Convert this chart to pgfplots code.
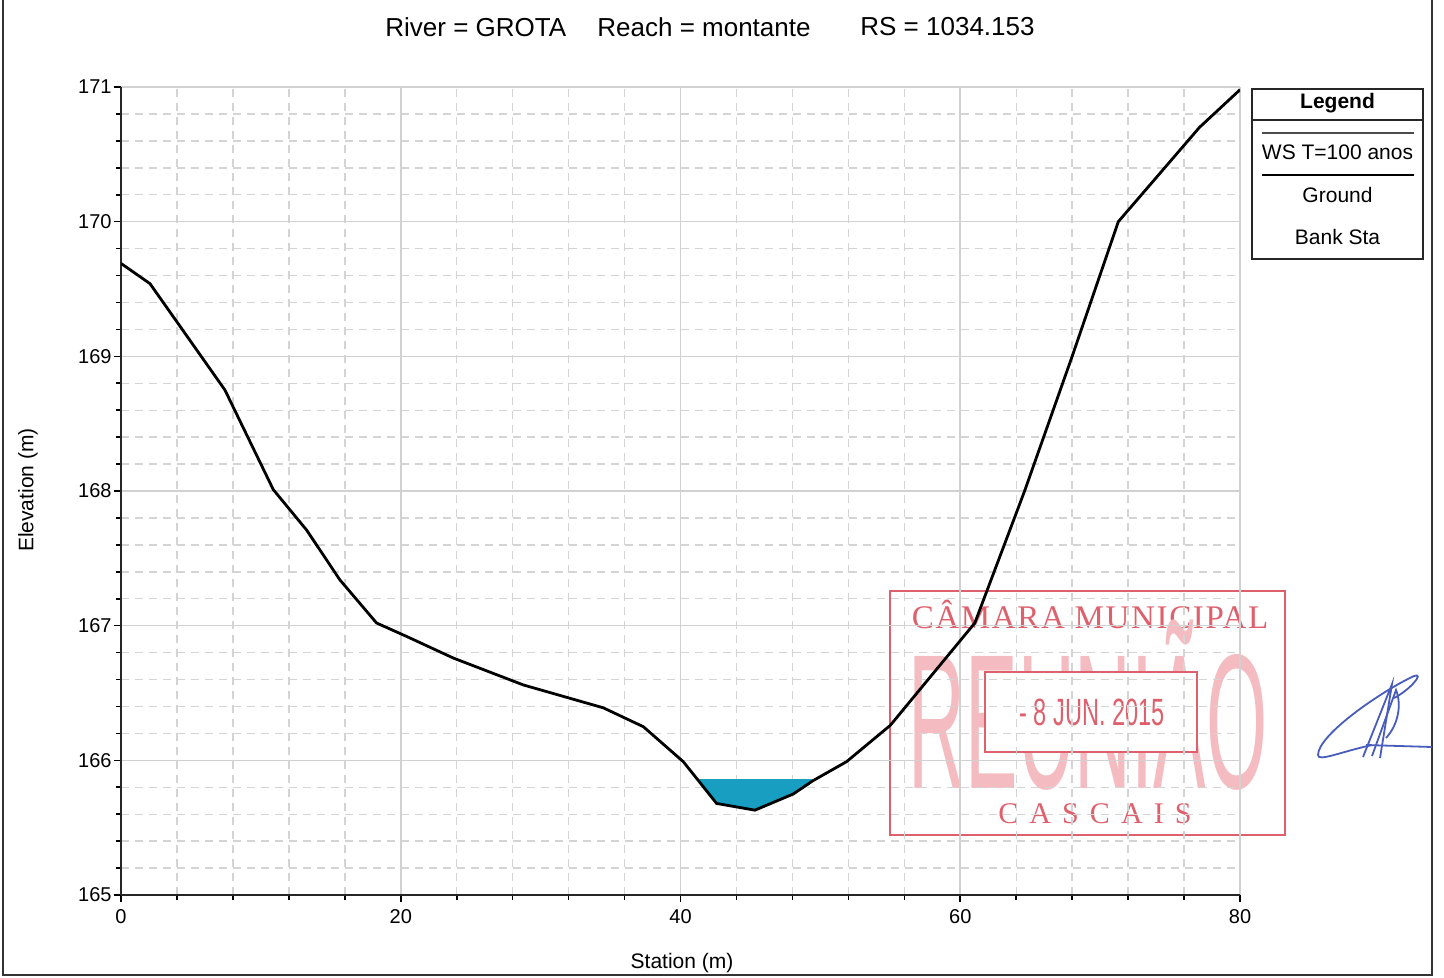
\documentclass[border=0pt]{standalone}
\usepackage{fontspec}
\setmainfont{Liberation Sans}
\newfontfamily\stampserif{Liberation Serif}
\usepackage{pgfplots}
\pgfplotsset{compat=1.18}
\definecolor{water}{RGB}{24,158,192}
\definecolor{stampred}{RGB}{222,96,108}
\definecolor{stamplight}{RGB}{244,188,192}
\definecolor{sigblue}{RGB}{72,92,188}

\begin{document}
\begin{tikzpicture}
\useasboundingbox (0,0) rectangle (722pt,-489pt);
\begin{scope}[x=0.5pt,y=-0.5pt]
  % page frame
  \draw[line width=1.2pt, black!80] (3,0) -- (3,975) -- (1432,975) -- (1432,0);
  % stamp
  \draw[stampred, line width=1pt] (890,591) rectangle (1285,835);
  \node[stampred, inner sep=0, font=\stampserif\fontsize{16.5}{16.5}\selectfont\addfontfeatures{LetterSpace=5}] at (1090,614) {CÂMARA MUNICIPAL};
  \node[text=stamplight, inner sep=0, anchor=base, xscale=0.41, font=\fontsize{96}{96}\selectfont] at (1088,788) {REUNIÃO};
  \draw[stampred, line width=1pt, fill=white] (985,672) rectangle (1197,752);
  \node[stampred, inner sep=0, xscale=0.62, font=\fontsize{19}{19}\selectfont] at (1092,712) {- 8 JUN. 2015};
  \node[stampred, inner sep=0, font=\stampserif\fontsize{15}{15}\selectfont\addfontfeatures{LetterSpace=37}] at (1095,814) {CASCAIS};
  % signature
  \draw[sigblue, line width=0.9pt] (1372,745) .. controls (1340,752) and (1318,762) .. (1318,755)
      .. controls (1318,735) and (1380,692) .. (1414,676) .. controls (1425,672) and (1410,690) .. (1394,698);
  \draw[sigblue, line width=0.9pt] (1366,745) -- (1432,747);
  \draw[sigblue, line width=0.9pt] (1363,757) -- (1392,684) -- (1380,758);
  \draw[sigblue, line width=0.9pt] (1372,756) -- (1396,690) .. controls (1402,705) and (1398,725) .. (1386,738);
\end{scope}

\begin{axis}[
  at={(60.5pt,-447.5pt)}, anchor=south west,
  scale only axis, width=559.5pt, height=404pt,
  xmin=0, xmax=80, ymin=165, ymax=171,
  axis x line=bottom, axis y line=left,
  axis line style={-, line width=1pt, black!85},
  xtick={0,20,40,60,80},
  minor xtick={4,8,12,16,24,28,32,36,44,48,52,56,64,68,72,76},
  ytick={165,166,167,168,169,170,171},
  minor y tick num=4,
  grid=both,
  major grid style={black!18, line width=0.8pt},
  minor grid style={black!17, line width=0.7pt, dash pattern=on 4pt off 3pt},
  tick align=outside,
  major tick length=3.5pt, minor tick length=2.5pt,
  every tick/.style={black, line width=0.8pt},
  tick label style={font=\fontsize{10}{12}\selectfont},
  yticklabel style={inner xsep=1pt},
  /pgf/number format/assume math mode=true,
]
\addplot[fill=water, draw=none] coordinates {
  (41.2,165.86) (42.58,165.68) (45.32,165.63) (48.06,165.75) (49.49,165.86)
} -- cycle;
\addplot[black, line width=1.4pt] coordinates {
  (0,169.69) (2.07,169.54) (7.43,168.75) (10.89,168.01) (13.27,167.71)
  (15.65,167.34) (18.27,167.02) (20.42,166.92) (23.75,166.76) (28.76,166.56)
  (34.48,166.39) (37.34,166.25) (40.2,165.99) (42.58,165.68) (45.32,165.63)
  (48.06,165.75) (49.49,165.85) (51.87,165.99) (55.0,166.26) (61.04,167.02)
  (64.6,168.0) (68.0,169.0) (71.3,170.0) (77.1,170.7) (80,170.98)
};
\end{axis}

\begin{scope}[x=0.5pt,y=-0.5pt]
  % titles and axis labels
  \node[anchor=west, inner sep=0, font=\fontsize{13}{15}\selectfont] at (385,27) {River = GROTA};
  \node[anchor=west, inner sep=0, font=\fontsize{13}{15}\selectfont] at (597,27) {Reach = montante};
  \node[anchor=west, inner sep=0, font=\fontsize{13}{15}\selectfont] at (860,27) {RS = 1034.153};
  \node[inner sep=0, font=\fontsize{10.5}{12}\selectfont] at (682,963) {Station (m)};
  \node[inner sep=0, rotate=90, font=\fontsize{10.5}{12}\selectfont] at (28,490) {Elevation (m)};
  % legend
  \draw[black!85, line width=0.9pt] (1252,89) rectangle (1423,259);
  \draw[black!85, line width=0.8pt] (1252,120) -- (1423,120);
  \node[inner sep=0, font=\bfseries\fontsize{10.5}{12}\selectfont] at (1337.5,103) {Legend};
  \draw[black!70, line width=0.7pt] (1262,133) -- (1414,133);
  \node[inner sep=0, font=\fontsize{10.5}{12}\selectfont] at (1337.5,152) {WS T=100 anos};
  \draw[black, line width=1.4pt] (1262,175) -- (1414,175);
  \node[inner sep=0, font=\fontsize{10.5}{12}\selectfont] at (1337.5,195) {Ground};
  \node[inner sep=0, font=\fontsize{10.5}{12}\selectfont] at (1337.5,237) {Bank Sta};
\end{scope}
\end{tikzpicture}
\end{document}
